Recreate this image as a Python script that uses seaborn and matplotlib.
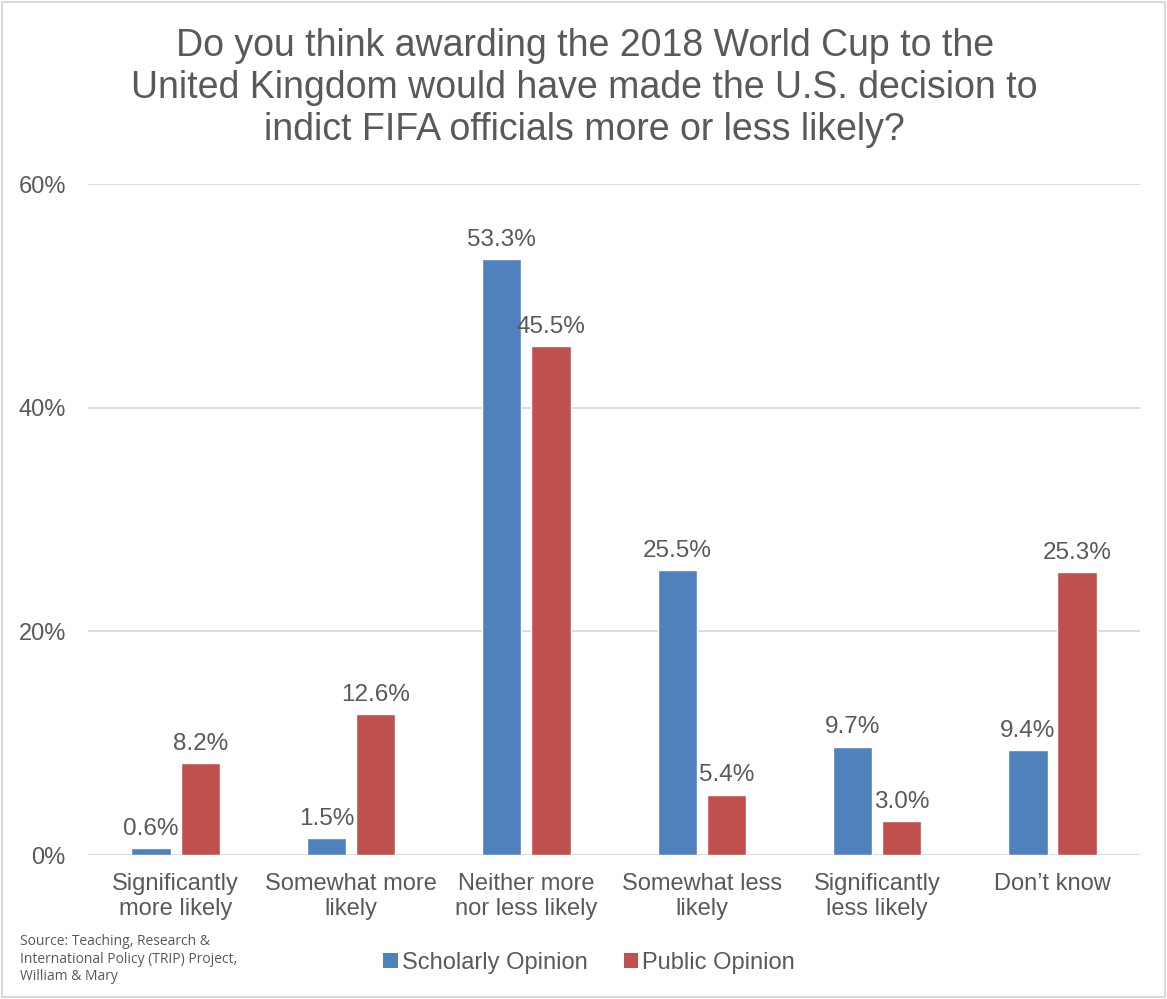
import pandas as pd
import matplotlib
matplotlib.use("Agg")
import matplotlib.pyplot as plt
import seaborn as sns
from matplotlib.patches import Patch, Rectangle

# Survey data
categories = ["Significantly\nmore likely", "Somewhat more\nlikely", "Neither more\nnor less likely",
              "Somewhat less\nlikely", "Significantly\nless likely", "Don\u2019t know"]
scholarly = [0.6, 1.5, 53.3, 25.5, 9.7, 9.4]
public = [8.2, 12.6, 45.5, 5.4, 3.0, 25.3]
series_names = ["Scholarly Opinion", "Public Opinion"]
y_ticks = [0, 20, 40, 60]

df = pd.DataFrame({
    "category": categories * 2,
    "value": scholarly + public,
    "series": [series_names[0]] * len(categories) + [series_names[1]] * len(categories),
})

sns.set_style("white")
plt.rcParams["font.family"] = ["Liberation Sans", "DejaVu Sans"]

text_color = "#595959"
grid_color = "#D9D9D9"
colors = ["#4F81BD", "#C0504D"]

fig = plt.figure(figsize=(11.67, 9.99), dpi=100)
ax = fig.add_axes([0.0754, 0.1441, 0.9016, 0.6717])

sns.barplot(data=df, x="category", y="value", hue="series", palette=colors,
            width=0.56, gap=0.2, ax=ax, legend=False, saturation=1)

for cont in ax.containers:
    ax.bar_label(cont, fmt="%.1f%%", padding=6, fontsize=17.5, color=text_color)

ax.set_ylim(0, 60)
ax.set_yticks(y_ticks)
ax.set_yticklabels([f"{t}%" for t in y_ticks])
ax.set_xlim(-0.5, len(categories) - 0.5)
ax.set_xlabel("")
ax.set_ylabel("")
ax.grid(axis="y", color=grid_color, linewidth=1.3)
ax.set_axisbelow(True)
for s in ax.spines.values():
    s.set_visible(False)
ax.tick_params(axis="both", length=0, labelsize=17, colors=text_color)
ax.tick_params(axis="y", pad=16)
ax.tick_params(axis="x", pad=13)
for lbl in ax.get_xticklabels():
    lbl.set_linespacing(1.2)

# Title
fig.text(0.501, 0.912,
         "Do you think awarding the 2018 World Cup to the\nUnited Kingdom would have made the U.S. decision to\nindict FIFA officials more or less likely?",
         ha="center", va="center", fontsize=27, color=text_color, linespacing=1.2)

# Legend
handles = [Patch(facecolor=c, edgecolor="none", label=n) for c, n in zip(colors, series_names)]
fig.legend(handles=handles, loc="center", bbox_to_anchor=(0.505, 0.036), ncol=2, frameon=False,
           fontsize=17, labelcolor=text_color, handlelength=0.6, handleheight=0.6,
           handletextpad=0.2, columnspacing=1.5)

# Source note
fig.text(0.017, 0.040, "Source: Teaching, Research &\nInternational Policy (TRIP) Project,\nWilliam & Mary",
         ha="left", va="center", fontsize=10, color=text_color, family=["Open Sans", "DejaVu Sans"],
         linespacing=1.25)

# Outer border
fig.patches.append(Rectangle((0.002, 0.002), 0.996, 0.996, transform=fig.transFigure,
                             fill=False, edgecolor=grid_color, linewidth=1.5))

fig.savefig("out.png", dpi=100)
